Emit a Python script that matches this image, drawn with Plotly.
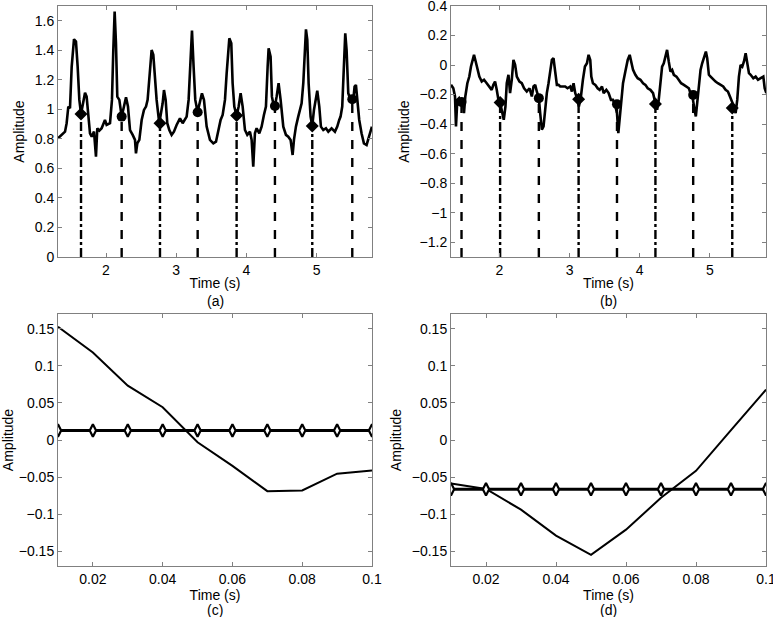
import plotly.graph_objects as go

# ---------------- data ----------------
# Panel (a)
ta = [1.316,1.368,1.416,1.439,1.463,1.487,1.511,1.544,1.572,1.596,1.620,1.644,1.677,1.701,1.724,1.748,1.772,1.796,1.829,1.857,
      1.876,1.905,1.938,1.985,2.009,2.057,2.085,2.104,2.123,2.142,2.161,2.190,2.223,2.256,2.285,2.313,2.342,2.380,2.413,2.427,
      2.446,2.475,2.508,2.541,2.570,2.593,2.617,2.650,2.674,2.698,2.721,2.759,2.788,2.807,2.826,2.850,2.873,2.902,2.935,2.968,
      3.006,3.054,3.092,3.149,3.177,3.206,3.225,3.248,3.272,3.305,3.339,3.367,3.396,3.434,3.481,3.529,3.567,3.600,3.633,3.662,
      3.695,3.719,3.757,3.785,3.804,3.828,3.861,3.890,3.918,3.947,3.980,4.013,4.051,4.075,4.098,4.122,4.146,4.184,4.217,4.250,
      4.279,4.303,4.317,4.345,4.364,4.383,4.407,4.431,4.459,4.488,4.526,4.564,4.597,4.630,4.659,4.678,4.706,4.739,4.763,4.787,
      4.811,4.830,4.849,4.868,4.887,4.915,4.939,4.963,4.986,5.010,5.039,5.062,5.096,5.134,5.167,5.214,5.262,5.295,5.323,5.342,
      5.366,5.390,5.409,5.428,5.452,5.476,5.499,5.523,5.542,5.561,5.580,5.608,5.641,5.675,5.713,5.751,5.789]
ya = [0.804,0.827,0.849,0.906,1.019,1.007,1.290,1.475,1.459,1.290,1.064,0.969,1.064,1.113,1.086,0.962,0.838,0.815,0.849,0.680,
      0.872,0.856,0.872,0.928,0.894,0.906,1.064,1.402,1.662,1.448,1.086,1.064,0.951,1.019,1.082,1.019,0.860,0.827,0.793,0.702,
      0.770,0.793,0.928,0.996,1.019,1.064,1.222,1.402,1.369,1.222,1.064,0.906,0.973,1.041,1.131,1.064,0.906,0.860,0.827,0.849,
      0.894,0.939,0.906,0.951,1.064,1.312,1.533,1.290,1.064,0.982,1.064,1.109,1.064,0.883,0.793,0.770,0.781,0.860,0.928,0.962,
      1.064,1.244,1.481,1.448,1.177,1.019,0.955,1.019,1.109,1.019,0.860,0.827,0.849,0.793,0.612,0.838,0.872,0.838,0.883,0.962,
      1.019,1.290,1.414,1.357,1.086,1.041,1.023,1.086,1.177,1.064,0.883,0.827,0.815,0.793,0.691,0.793,0.883,0.951,1.007,1.041,
      1.177,1.402,1.542,1.470,1.177,0.951,0.888,0.996,1.064,1.127,1.019,0.883,0.860,0.872,0.849,0.872,0.849,0.883,0.928,0.951,
      1.019,1.290,1.515,1.402,1.109,1.075,1.064,1.064,1.154,1.165,1.064,0.928,0.838,0.770,0.759,0.815,0.883]
mark_ta = [1.644, 2.223, 2.769, 3.306, 3.861, 4.407, 4.939, 5.509]
mark_ya = [0.969, 0.951, 0.906, 0.980, 0.958, 1.023, 0.888, 1.068]

# Panel (b)
tb = [1.310,1.343,1.367,1.381,1.400,1.424,1.448,1.476,1.495,1.514,1.543,1.571,1.595,1.619,1.638,1.662,1.686,1.714,1.748,1.781,
      1.819,1.857,1.890,1.914,1.938,1.962,1.986,2.010,2.038,2.062,2.086,2.105,2.129,2.152,2.176,2.200,2.224,2.248,2.286,2.319,
      2.352,2.390,2.429,2.462,2.486,2.510,2.533,2.562,2.581,2.605,2.629,2.652,2.676,2.700,2.724,2.748,2.771,2.795,2.819,2.843,
      2.867,2.905,2.938,2.971,3.010,3.033,3.057,3.081,3.114,3.133,3.162,3.190,3.219,3.248,3.271,3.295,3.310,3.333,3.367,3.400,
      3.429,3.462,3.486,3.524,3.557,3.590,3.619,3.648,3.676,3.695,3.714,3.733,3.762,3.795,3.829,3.857,3.876,3.905,3.938,3.971,
      4.010,4.048,4.081,4.114,4.152,4.190,4.224,4.248,4.271,4.295,4.319,4.343,4.371,4.390,4.414,4.438,4.462,4.486,4.524,4.557,
      4.590,4.629,4.667,4.700,4.724,4.748,4.781,4.800,4.819,4.843,4.867,4.890,4.914,4.943,4.962,4.986,5.010,5.048,5.081,5.114,
      5.152,5.190,5.224,5.257,5.286,5.305,5.343,5.367,5.390,5.414,5.438,5.462,5.486,5.510,5.533,5.557,5.581,5.619,5.652,5.686,
      5.724,5.762,5.781,5.805]
yb = [-0.134,-0.157,-0.213,-0.416,-0.236,-0.224,-0.258,-0.236,-0.326,-0.213,-0.123,-0.078,-0.010,0.046,0.069,0.024,-0.033,-0.078,-0.112,-0.100,
      -0.123,-0.145,-0.168,-0.134,-0.112,-0.168,-0.236,-0.254,-0.326,-0.371,-0.281,-0.123,-0.066,-0.190,-0.100,0.035,0.001,-0.078,-0.112,-0.123,
      -0.157,-0.179,-0.157,-0.213,-0.145,-0.134,-0.179,-0.224,-0.326,-0.438,-0.416,-0.303,-0.190,-0.123,-0.033,0.035,0.046,-0.055,-0.134,-0.134,
      -0.145,-0.145,-0.145,-0.157,-0.145,-0.179,-0.123,-0.190,-0.231,-0.281,-0.213,-0.100,-0.010,0.012,0.069,0.035,-0.078,-0.123,-0.134,-0.157,
      -0.168,-0.145,-0.190,-0.168,-0.190,-0.236,-0.236,-0.269,-0.326,-0.461,-0.371,-0.236,-0.123,-0.044,0.035,0.069,0.035,-0.033,-0.066,-0.089,
      -0.100,-0.123,-0.134,-0.157,-0.168,-0.190,-0.258,-0.303,-0.236,-0.100,-0.010,0.012,0.080,0.103,0.024,-0.044,-0.033,-0.066,-0.078,-0.100,
      -0.123,-0.134,-0.145,-0.157,-0.190,-0.202,-0.303,-0.348,-0.258,-0.123,-0.033,0.012,0.057,0.091,0.046,-0.066,-0.078,-0.100,-0.112,-0.123,
      -0.134,-0.145,-0.168,-0.179,-0.213,-0.236,-0.281,-0.326,-0.236,-0.078,0.001,-0.010,0.024,0.080,0.012,-0.055,-0.066,-0.089,-0.078,-0.100,
      -0.089,-0.078,-0.157,-0.190]
mark_tb = [1.460, 2.010, 2.562, 3.129, 3.676, 4.224, 4.762, 5.319]
mark_yb = [-0.250, -0.254, -0.224, -0.231, -0.265, -0.263, -0.202, -0.290]

# Panels (c) and (d)
tc = [0.01, 0.02, 0.03, 0.04, 0.05, 0.06, 0.07, 0.08, 0.09, 0.10]
yc = [0.1527, 0.118, 0.0733, 0.0442, -0.003, -0.035, -0.069, -0.068, -0.0455, -0.041]
yc_level = 0.0128
yd = [-0.0587, -0.066, -0.094, -0.129, -0.155, -0.121, -0.078, -0.0416, 0.0133, 0.068]
yd_level = -0.0664

# ---------------- figure ----------------
W, H = 773, 617
FONT = "Liberation Sans, Arial, sans-serif"
fig = go.Figure()

def vlines(ts, ys, base, idx):
    xs, yv = [], []
    for i in idx:
        xs += [ts[i], ts[i], None]
        yv += [base, ys[i], None]
    return xs, yv

# (a)
fig.add_trace(go.Scatter(x=ta, y=ya, mode="lines", line=dict(color="black", width=2.6), xaxis="x", yaxis="y"))
for idx, dash, sym in [([0, 2, 4, 6], "dashdot", "diamond"), ([1, 3, 5, 7], "dash", "circle")]:
    xs, yv = vlines(mark_ta, mark_ya, 0, idx)
    fig.add_trace(go.Scatter(x=xs, y=yv, mode="lines", line=dict(color="black", width=2.4, dash=dash), xaxis="x", yaxis="y"))
    fig.add_trace(go.Scatter(x=[mark_ta[i] for i in idx], y=[mark_ya[i] for i in idx], mode="markers",
                             marker=dict(symbol=sym, size=10, color="black"), xaxis="x", yaxis="y"))
# (b)
fig.add_trace(go.Scatter(x=tb, y=yb, mode="lines", line=dict(color="black", width=2.6), xaxis="x2", yaxis="y2"))
for idx, dash, sym in [([0, 2, 4, 6], "dash", "circle"), ([1, 3, 5, 7], "dashdot", "diamond")]:
    xs, yv = vlines(mark_tb, mark_yb, -1.3, idx)
    fig.add_trace(go.Scatter(x=xs, y=yv, mode="lines", line=dict(color="black", width=2.4, dash=dash), xaxis="x2", yaxis="y2"))
    fig.add_trace(go.Scatter(x=[mark_tb[i] for i in idx], y=[mark_yb[i] for i in idx], mode="markers",
                             marker=dict(symbol=sym, size=10, color="black"), xaxis="x2", yaxis="y2"))
# (c)
dmark = dict(symbol="diamond-tall", size=9, color="white", line=dict(color="black", width=2.2))
fig.add_trace(go.Scatter(x=tc, y=yc, mode="lines", line=dict(color="black", width=2), xaxis="x3", yaxis="y3"))
fig.add_trace(go.Scatter(x=tc, y=[yc_level] * len(tc), mode="lines+markers", line=dict(color="black", width=3),
                         marker=dmark, xaxis="x3", yaxis="y3"))
# (d)
fig.add_trace(go.Scatter(x=tc, y=yd, mode="lines", line=dict(color="black", width=2), xaxis="x4", yaxis="y4"))
fig.add_trace(go.Scatter(x=tc, y=[yd_level] * len(tc), mode="lines+markers", line=dict(color="black", width=3),
                         marker=dmark, xaxis="x4", yaxis="y4"))

def px_x(a, b):
    return [a / W, b / W]

def px_y(top, bot):
    return [1 - bot / H, 1 - top / H]

common = dict(showline=True, linecolor="#808080", linewidth=1, mirror="ticks", ticks="inside", ticklen=4,
              tickcolor="#808080", showgrid=False, zeroline=False, tickfont=dict(size=14, color="black"),
              automargin=False, ticklabeloverflow="allow")

xt = dict(text="Time (s)", font=dict(size=14, color="black"), standoff=1)
yt = dict(text="Amplitude", font=dict(size=14, color="black"), standoff=6)

fig.update_layout(
    width=W, height=H, margin=dict(l=0, r=0, t=0, b=0),
    paper_bgcolor="white", plot_bgcolor="white", showlegend=False,
    font=dict(family=FONT, color="black", size=14),
    xaxis=dict(domain=px_x(58, 372), range=[1.316, 5.79], tickvals=[2, 3, 4, 5], anchor="y", title=xt, **common),
    yaxis=dict(domain=px_y(6, 257), range=[0, 1.7], tickvals=[0, 0.2, 0.4, 0.6, 0.8, 1, 1.2, 1.4, 1.6],
               anchor="x", title=yt, **common),
    xaxis2=dict(domain=px_x(451, 766), range=[1.31, 5.8], tickvals=[2, 3, 4, 5], anchor="y2", title=xt, **common),
    yaxis2=dict(domain=px_y(6, 257), range=[-1.3, 0.4],
                tickvals=[-1.2, -1, -0.8, -0.6, -0.4, -0.2, 0, 0.2, 0.4], anchor="x2", title=yt, **common),
    xaxis3=dict(domain=px_x(58, 372), range=[0.01, 0.1], tickvals=[0.02, 0.04, 0.06, 0.08, 0.1], anchor="y3",
                title=xt, **common),
    yaxis3=dict(domain=px_y(314, 566), range=[-0.17, 0.17],
                tickvals=[-0.15, -0.1, -0.05, 0, 0.05, 0.1, 0.15], anchor="x3", title=yt, **common),
    xaxis4=dict(domain=px_x(451, 766), range=[0.01, 0.1], tickvals=[0.02, 0.04, 0.06, 0.08, 0.1], anchor="y4",
                title=xt, **common),
    yaxis4=dict(domain=px_y(314, 566), range=[-0.17, 0.17],
                tickvals=[-0.15, -0.1, -0.05, 0, 0.05, 0.1, 0.15], anchor="x4", title=yt, **common),
)

for lab, xc, yc_px in [("(a)", 215, 301), ("(b)", 608, 301), ("(c)", 215, 610), ("(d)", 608, 610)]:
    fig.add_annotation(text=lab, x=xc / W, y=1 - yc_px / H, xref="paper", yref="paper", showarrow=False,
                       xanchor="center", yanchor="middle", font=dict(size=14, color="black"))

fig.write_html("out.html", config={"displayModeBar": False},
               post_script="document.body.style.margin='0px';document.body.style.overflow='hidden';")
